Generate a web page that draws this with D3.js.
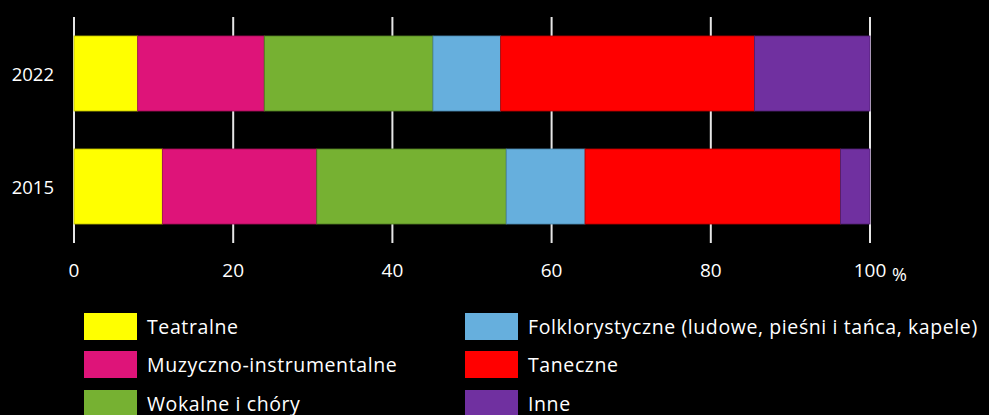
<!DOCTYPE html>
<html><head><meta charset="utf-8">
<script src="https://cdn.jsdelivr.net/npm/d3@7"></script>
<style>html,body{margin:0;padding:0;background:#000;}svg{display:block;}</style>
</head><body>
<svg id="c" width="989" height="415"></svg>
<script>
const years = ["2022", "2015"];
const categories = ["Teatralne", "Muzyczno-instrumentalne", "Wokalne i chóry", "Folklorystyczne (ludowe, pieśni i tańca, kapele)", "Taneczne", "Inne"];
const values2022 = [8.0, 15.9, 21.2, 8.5, 31.9, 14.5];
const values2015 = [11.1, 19.4, 23.8, 9.9, 32.1, 3.7];
const colors = ["#FFFF00", "#DE1479", "#76B132", "#66AFDD", "#FF0000", "#7030A0"];
const strokes = ["#b8b800", "#9c0e55", "#4f7a22", "#4a84aa", "#b00000", "#4e2070"];
const xTicks = [0, 20, 40, 60, 80, 100];

const FONT = "'Open Sans', sans-serif";
const svg = d3.select("#c");
svg.append("rect").attr("width", 989).attr("height", 415).attr("fill", "#000");

const x = d3.scaleLinear().domain([0, 100]).range([74, 870]);
const y = d3.scaleBand().domain(years).range([17, 243]).paddingInner(0.336).paddingOuter(0.168);

const seriesByYear = {"2022": values2022, "2015": values2015};

// grid lines (behind bars)
svg.append("g").selectAll("line").data(xTicks).join("line")
  .attr("x1", d => x(d)).attr("x2", d => x(d))
  .attr("y1", 17).attr("y2", 243)
  .attr("stroke", "#e6e6e6").attr("stroke-width", 2);

// bars
years.forEach(yr => {
  const vals = seriesByYear[yr];
  let cum = 0;
  const segs = vals.map((v, i) => { const s = {x0: cum, x1: cum + v, i}; cum += v; return s; });
  svg.append("g").selectAll("rect").data(segs).join("rect")
    .attr("x", d => x(d.x0)).attr("width", d => x(d.x1) - x(d.x0))
    .attr("y", y(yr)).attr("height", y.bandwidth())
    .attr("fill", d => colors[d.i])
    .attr("stroke", d => strokes[d.i]).attr("stroke-width", 0.8);
});

// y labels
svg.append("g").selectAll("text").data(years).join("text")
  .attr("x", 54).attr("y", d => y(d) + y.bandwidth() / 2)
  .attr("text-anchor", "end").attr("dominant-baseline", "central")
  .attr("fill", "#fff").attr("font-family", FONT).attr("font-size", 18.5)
  .text(d => d);

// x tick labels
svg.append("g").selectAll("text").data(xTicks).join("text")
  .attr("x", d => x(d)).attr("y", 277)
  .attr("text-anchor", "middle")
  .attr("fill", "#fff").attr("font-family", FONT).attr("font-size", 19)
  .text(d => d);
svg.append("text").attr("x", x(100) + 22).attr("y", 281)
  .attr("text-anchor", "start").attr("fill", "#fff")
  .attr("font-family", FONT).attr("font-size", 18).text("%");

// legend
const legX = [84, 465];
const legY = [313, 351, 390];
const leg = svg.append("g");
categories.forEach((c, i) => {
  const col = Math.floor(i / 3), row = i % 3;
  leg.append("rect").attr("x", legX[col]).attr("y", legY[row])
    .attr("width", 53).attr("height", 27).attr("fill", colors[i]);
  leg.append("text").attr("x", legX[col] + 63).attr("y", legY[row] + 21)
    .attr("fill", "#fff").attr("font-family", FONT).attr("font-size", 19.5)
    .attr("letter-spacing", 0.6)
    .text(c);
});
</script>
</body></html>
